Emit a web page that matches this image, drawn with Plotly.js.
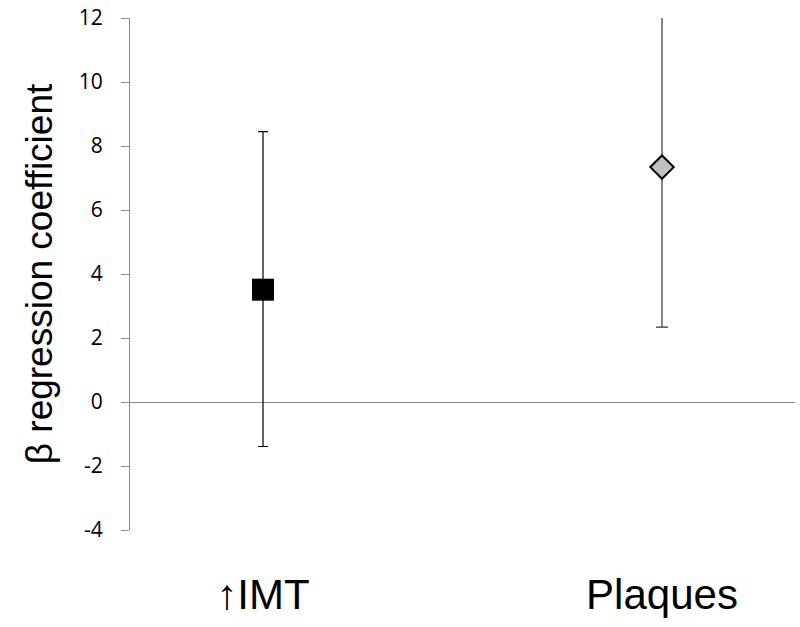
<!DOCTYPE html>
<html>
<head>
<meta charset="utf-8">
<script src="https://cdn.plot.ly/plotly-3.0.1.min.js"></script>
<style>html,body{margin:0;padding:0;background:#fff;}#chart{width:800px;height:627px;}</style>
</head>
<body>
<div id="chart"></div>
<script>
const categories = ["\u2191IMT", "Plaques"];
const beta = [3.51, 7.34];
const ciUpper = [8.45, 12.34];
const ciLower = [-1.39, 2.34];
const yTicks = [-4, -2, 0, 2, 4, 6, 8, 10, 12];

const traces = [
  {
    x: [categories[0]], y: [beta[0]], type: "scatter", mode: "markers",
    marker: {symbol: "square", size: 22, color: "#000000"},
    error_y: {type: "data", symmetric: false,
      array: [ciUpper[0] - beta[0]], arrayminus: [beta[0] - ciLower[0]],
      color: "#000000", thickness: 1.2, width: 5},
    showlegend: false, hoverinfo: "skip"
  },
  {
    x: [categories[1]], y: [beta[1]], type: "scatter", mode: "markers",
    marker: {symbol: "diamond", size: 18, color: "#c0c0c0", line: {color: "#000000", width: 2}},
    error_y: {type: "data", symmetric: false,
      array: [ciUpper[1] - beta[1]], arrayminus: [beta[1] - ciLower[1]],
      color: "#333333", thickness: 1.2, width: 6},
    showlegend: false, hoverinfo: "skip"
  }
];

const layout = {
  width: 800, height: 627,
  margin: {l: 130, r: 5, t: 18, b: 97},
  paper_bgcolor: "#ffffff", plot_bgcolor: "#ffffff",
  xaxis: {
    type: "category", categoryorder: "array", categoryarray: categories,
    range: [-1/3, 4/3], showgrid: false, zeroline: false, showline: false,
    ticks: "", tickfont: {family: "Liberation Sans, Arial, sans-serif", size: 42, color: "#000"},
    ticklabelstandoff: 36
  },
  yaxis: {
    range: [-4, 12], tickvals: yTicks, ticktext: yTicks.map(String),
    showgrid: false, zeroline: true, zerolinecolor: "#8c8c8c", zerolinewidth: 1,
    showline: true, linecolor: "#8c8c8c", linewidth: 1,
    ticks: "outside", ticklen: 8, tickcolor: "#8c8c8c", tickwidth: 1,
    tickfont: {family: "Open Sans, sans-serif", size: 21, color: "#000"},
    ticklabelstandoff: 14,
    title: {text: "\u03b2 regression coefficient", font: {family: "Liberation Sans, Arial, sans-serif", size: 37, color: "#000"}, standoff: 14}
  }
};

Plotly.newPlot("chart", traces, layout, {displayModeBar: false, staticPlot: true});
</script>
</body>
</html>
